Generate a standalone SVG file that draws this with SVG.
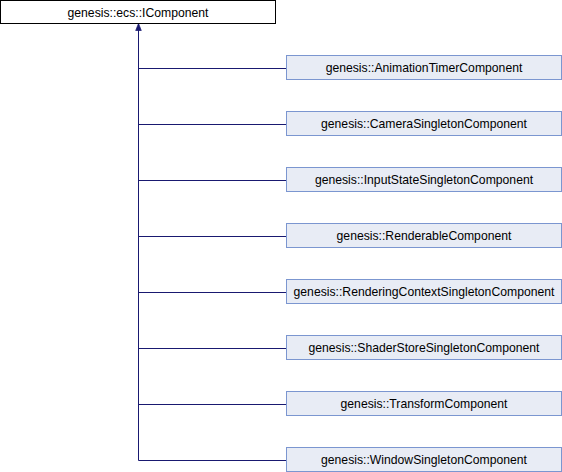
<svg xmlns="http://www.w3.org/2000/svg" width="562" height="472" viewBox="0 0 562 472">
<style>
text{font-family:"Liberation Sans",Arial,sans-serif;font-size:12.2px;fill:#000;text-anchor:middle}
.c rect{fill:#e8ecf5;stroke:#7b96d0;stroke-width:1}
.e{fill:none;stroke:#191970;stroke-width:1}
</style>
<defs>
<marker id="ah" viewBox="0 0 10 10" refX="10" refY="5" markerWidth="7" markerHeight="7" orient="auto" markerUnits="userSpaceOnUse">
<path d="M0,1 L10,5 L0,9 Z" fill="#191970" stroke="#191970"/>
</marker>
</defs>
<g id="connectors">
<path class="e" d="M138.5,460.5 V23.5" marker-end="url(#ah)"/>
<path class="e" d="M138.5,68.5 H286"/>
<path class="e" d="M138.5,124.5 H286"/>
<path class="e" d="M138.5,180.5 H286"/>
<path class="e" d="M138.5,236.5 H286"/>
<path class="e" d="M138.5,292.5 H286"/>
<path class="e" d="M138.5,348.5 H286"/>
<path class="e" d="M138.5,404.5 H286"/>
<path class="e" d="M138.5,460.5 H286"/>
</g>
<g id="IComponent">
<rect x="0.5" y="0.5" width="275" height="23" fill="#fff" stroke="#000"/>
<text x="138" y="16.5">genesis::ecs::IComponent</text>
</g>
<g id="AnimationTimerComponent" class="c">
<rect x="286.5" y="55.5" width="275" height="24"/>
<text x="424" y="72">genesis::AnimationTimerComponent</text>
</g>
<g id="CameraSingletonComponent" class="c">
<rect x="286.5" y="111.5" width="275" height="24"/>
<text x="424" y="128">genesis::CameraSingletonComponent</text>
</g>
<g id="InputStateSingletonComponent" class="c">
<rect x="286.5" y="167.5" width="275" height="24"/>
<text x="424" y="184">genesis::InputStateSingletonComponent</text>
</g>
<g id="RenderableComponent" class="c">
<rect x="286.5" y="223.5" width="275" height="24"/>
<text x="424" y="240">genesis::RenderableComponent</text>
</g>
<g id="RenderingContextSingletonComponent" class="c">
<rect x="286.5" y="279.5" width="275" height="24"/>
<text x="424" y="296">genesis::RenderingContextSingletonComponent</text>
</g>
<g id="ShaderStoreSingletonComponent" class="c">
<rect x="286.5" y="335.5" width="275" height="24"/>
<text x="424" y="352">genesis::ShaderStoreSingletonComponent</text>
</g>
<g id="TransformComponent" class="c">
<rect x="286.5" y="391.5" width="275" height="24"/>
<text x="424" y="408">genesis::TransformComponent</text>
</g>
<g id="WindowSingletonComponent" class="c">
<rect x="286.5" y="447.5" width="275" height="24"/>
<text x="424" y="464">genesis::WindowSingletonComponent</text>
</g>
</svg>
